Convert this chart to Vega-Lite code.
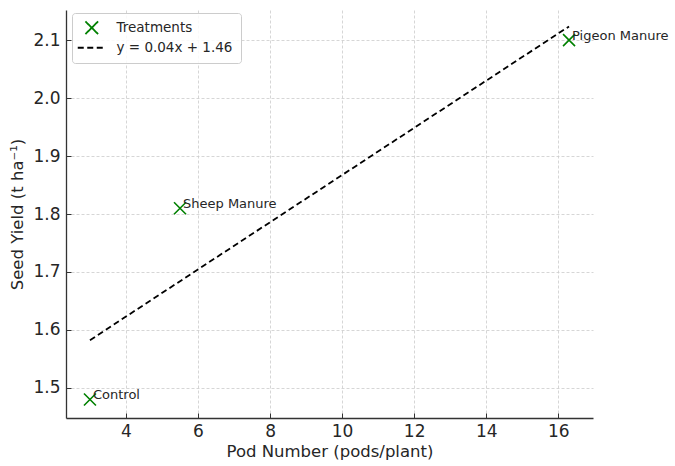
{
  "$schema": "https://vega.github.io/schema/vega-lite/v6.json",
  "autosize": {"type": "none"},
  "padding": {"left": 66, "top": 10, "right": 82, "bottom": 48},
  "width": 527,
  "height": 408,
  "background": "white",
  "data": {
    "values": [
      {"x": 3.0, "y": 1.48, "label": "Control"},
      {"x": 5.5, "y": 1.81, "label": "Sheep Manure"},
      {"x": 16.3, "y": 2.10, "label": "Pigeon Manure"}
    ]
  },
  "encoding": {
    "x": {
      "field": "x", "type": "quantitative",
      "scale": {"domain": [2.335, 16.965], "nice": false, "zero": false},
      "axis": {"values": [4, 6, 8, 10, 12, 14, 16], "title": "Pod Number (pods/plant)"}
    },
    "y": {
      "field": "y", "type": "quantitative",
      "scale": {"domain": [1.448, 2.152], "nice": false, "zero": false},
      "axis": {"values": [1.5, 1.6, 1.7, 1.8, 1.9, 2.0, 2.1], "format": ".1f", "title": "Seed Yield (t ha⁻¹)"}
    }
  },
  "layer": [
    {
      "mark": {"type": "point", "shape": "M-1,-1L1,1M-1,1L1,-1", "filled": false, "size": 144, "strokeWidth": 1.6, "opacity": 1},
      "encoding": {
        "color": {
          "datum": "Treatments",
          "scale": {"domain": ["Treatments", "y = 0.04x + 1.46"], "range": ["#008000", "#000000"]},
          "legend": {
            "title": null,
            "orient": "none",
            "legendX": 6,
            "legendY": 3,
            "padding": 8,
            "fillColor": "rgba(255,255,255,0.85)",
            "strokeColor": "#cccccc",
            "cornerRadius": 3,
            "symbolSize": 784,
            "symbolOffset": 5,
            "labelOffset": 18,
            "rowPadding": 2,
            "labelFontSize": 13.5,
            "labelFont": "DejaVu Sans",
            "labelColor": "#262626",
            "encode": {
              "symbols": {
                "update": {
                  "shape": {"signal": "datum.value === 'Treatments' ? 'M-1,-1L1,1M-1,1L1,-1' : 'stroke'"},
                  "size": {"signal": "datum.value === 'Treatments' ? 160 : 784"},
                  "stroke": {"signal": "datum.value === 'Treatments' ? '#008000' : '#000000'"},
                  "fill": {"value": "transparent"},
                  "strokeWidth": {"signal": "datum.value === 'Treatments' ? 1.8 : 1.8"},
                  "strokeDash": {"signal": "datum.value === 'Treatments' ? [1, 0] : [6, 3.5]"},
                  "opacity": {"value": 1}
                }
              }
            }
          }
        }
      }
    },
    {
      "transform": [{"regression": "y", "on": "x"}],
      "mark": {"type": "line", "strokeDash": [6, 3.5], "strokeWidth": 1.8},
      "encoding": {
        "color": {
          "datum": "y = 0.04x + 1.46",
          "legend": {
            "title": null,
            "orient": "none",
            "legendX": 6,
            "legendY": 3,
            "padding": 8,
            "fillColor": "rgba(255,255,255,0.85)",
            "strokeColor": "#cccccc",
            "cornerRadius": 3,
            "symbolSize": 784,
            "symbolOffset": 5,
            "labelOffset": 18,
            "rowPadding": 2,
            "labelFontSize": 13.5,
            "labelFont": "DejaVu Sans",
            "labelColor": "#262626",
            "encode": {
              "symbols": {
                "update": {
                  "shape": {"signal": "datum.value === 'Treatments' ? 'M-1,-1L1,1M-1,1L1,-1' : 'stroke'"},
                  "size": {"signal": "datum.value === 'Treatments' ? 160 : 784"},
                  "stroke": {"signal": "datum.value === 'Treatments' ? '#008000' : '#000000'"},
                  "fill": {"value": "transparent"},
                  "strokeWidth": {"signal": "datum.value === 'Treatments' ? 1.8 : 1.8"},
                  "strokeDash": {"signal": "datum.value === 'Treatments' ? [1, 0] : [6, 3.5]"},
                  "opacity": {"value": 1}
                }
              }
            }
          }
        }
      }
    },
    {
      "mark": {"type": "text", "align": "left", "baseline": "alphabetic", "dx": 3, "fontSize": 13, "font": "DejaVu Sans", "color": "#262626"},
      "encoding": {"text": {"field": "label"}}
    }
  ],
  "config": {
    "view": {"stroke": null},
    "font": "DejaVu Sans",
    "axis": {
      "domainColor": "#333333",
      "domainWidth": 1.3,
      "tickColor": "#333333",
      "tickSize": -5,
      "tickWidth": 1,
      "labelPadding": 10,
      "labelFontSize": 17,
      "labelFont": "DejaVu Sans",
      "labelColor": "#262626",
      "titleFontSize": 16.5,
      "titleFont": "DejaVu Sans",
      "titleFontWeight": "normal",
      "titleColor": "#262626",
      "gridColor": "#cccccc",
      "gridDash": [3, 2],
      "gridWidth": 0.8
    },
    "axisY": {"titlePadding": 7, "labelPadding": 11},
    "axisX": {"titlePadding": 4}
  }
}
